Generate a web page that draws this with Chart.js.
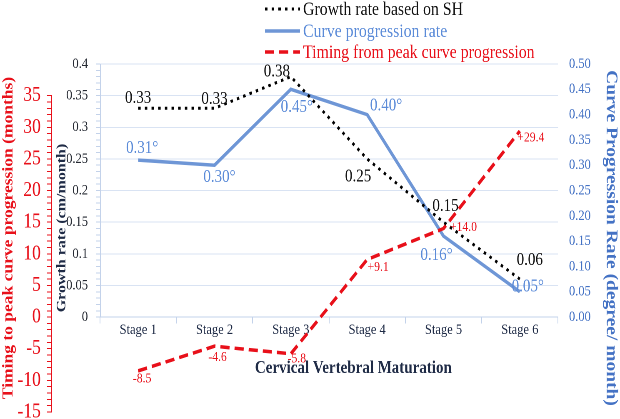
<!DOCTYPE html>
<html>
<head>
<meta charset="utf-8">
<script src="https://cdn.jsdelivr.net/npm/chart.js@4.4.1/dist/chart.umd.min.js"></script>
<style>
  html, body { margin: 0; padding: 0; background: #fff; }
  #wrap { width: 620px; height: 419px; overflow: hidden; position: relative; }
  #chart { position: absolute; left: 0; top: 0; transform: scaleX(0.8333); transform-origin: 0 0; }
</style>
</head>
<body>
<div id="wrap"><canvas id="chart" width="744" height="419"></canvas></div>
<script>
// data
const stages = ['Stage 1', 'Stage 2', 'Stage 3', 'Stage 4', 'Stage 5', 'Stage 6'];
const growthRate = [0.33, 0.33, 0.38, 0.25, 0.15, 0.06];
const curveRate = [0.31, 0.30, 0.45, 0.40, 0.16, 0.05];
const timingPeak = [-8.5, -4.6, -5.8, 9.1, 14.0, 29.4];

const growthTicks = [0, 0.05, 0.1, 0.15, 0.2, 0.25, 0.3, 0.35, 0.4];
const curveTicks = [0, 0.05, 0.1, 0.15, 0.2, 0.25, 0.3, 0.35, 0.4, 0.45, 0.5];
const timingTicks = [-15, -10, -5, 0, 5, 10, 15, 20, 25, 30, 35];

// where each value label sits relative to its point (figure px)
const growthLabelOffsets = [[0, -10], [0, -9], [-14, -5], [-9, 18], [2, -16], [10, -19]];
const curveLabelOffsets = [[4, -12], [5, 12], [6, 18], [19, -9], [-7, 19], [8, -5]];
const timingLabelOffsets = [[4, 8], [3, 11], [6, 5], [11, 8], [20, -1], [11, 7]];

// canvas is drawn wider and squeezed back by css, like the figure's text
const SX = 744 / 620;
const FONT = "'Liberation Serif', 'Times New Roman', serif";
const GRID = '#d9e3f3';
const AXIS = '#c3d2ea';
const RED = '#e8101a';
const BLUE_LINE = '#6e96d6';
const BLUE_TEXT = '#5b8bd8';
const BLUE_AXIS = '#4472c4';
const NAVY = '#1f2b46';

Chart.defaults.font.family = FONT;

function withMinor(major, parts) {
  const out = [];
  for (let i = 0; i < major.length - 1; i++) {
    const step = (major[i + 1] - major[i]) / parts;
    for (let j = 0; j < parts; j++) out.push(+(major[i] + j * step).toFixed(4));
  }
  out.push(major[major.length - 1]);
  return out;
}
const isMajor = (v, major) => major.some(m => Math.abs(m - v) < 1e-9);
const noPad = s => { s.paddingTop = 0; s.paddingBottom = 0; s.paddingLeft = 0; s.paddingRight = 0; };

const labelSets = [
  { fmt: v => v.toFixed(2), color: '#111111', size: 18, off: growthLabelOffsets },
  { fmt: v => v.toFixed(2) + '°', color: BLUE_TEXT, size: 18, off: curveLabelOffsets },
  { fmt: v => (v > 0 ? '+' : '') + v.toFixed(1), color: RED, size: 14, off: timingLabelOffsets }
];
const legendColors = ['#111111', BLUE_TEXT, RED];
const legendRows = [9, 31, 52];

const pointLabels = {
  id: 'pointLabels',
  afterDatasetsDraw(chart) {
    const ctx = chart.ctx;
    chart.data.datasets.forEach((ds, i) => {
      const set = labelSets[i];
      const meta = chart.getDatasetMeta(i);
      ctx.save();
      ctx.font = set.size + 'px ' + FONT;
      ctx.fillStyle = set.color;
      ctx.textAlign = 'center';
      ctx.textBaseline = 'middle';
      meta.data.forEach((pt, j) => {
        const [dx, dy] = set.off[j];
        ctx.fillText(set.fmt(ds.data[j]), pt.x + dx * SX, pt.y + dy);
      });
      ctx.restore();
    });
  }
};

const axisLines = {
  id: 'axisLines',
  beforeDatasetsDraw(chart) {
    const ctx = chart.ctx;
    const g = chart.scales.y;
    const r = chart.scales.yRed;
    ctx.save();
    ctx.lineWidth = 1;
    ctx.strokeStyle = AXIS;
    ctx.beginPath();
    ctx.moveTo(g.right + 0.5, g.getPixelForValue(0.4));
    ctx.lineTo(g.right + 0.5, g.getPixelForValue(0));
    ctx.stroke();
    ctx.strokeStyle = RED;
    ctx.beginPath();
    ctx.moveTo(r.right - 0.5, r.getPixelForValue(35));
    ctx.lineTo(r.right - 0.5, r.getPixelForValue(-15));
    ctx.stroke();
    ctx.restore();
  }
};

const topLegend = {
  id: 'topLegend',
  afterDraw(chart) {
    const ctx = chart.ctx;
    chart.data.datasets.forEach((ds, i) => {
      const y = legendRows[i];
      ctx.save();
      ctx.strokeStyle = ds.borderColor;
      ctx.lineWidth = ds.borderWidth;
      ctx.setLineDash(ds.borderDash || []);
      ctx.beginPath();
      ctx.moveTo(265 * SX, y);
      ctx.lineTo(300 * SX, y);
      ctx.stroke();
      ctx.setLineDash([]);
      ctx.font = '19px ' + FONT;
      ctx.fillStyle = legendColors[i];
      ctx.textAlign = 'left';
      ctx.textBaseline = 'middle';
      ctx.fillText(ds.label, 303 * SX, y + 1);
      ctx.restore();
    });
  }
};

new Chart(document.getElementById('chart'), {
  type: 'line',
  data: {
    labels: stages,
    datasets: [
      {
        label: 'Growth rate based on SH',
        data: growthRate,
        yAxisID: 'y',
        borderColor: '#000000',
        borderWidth: 3,
        borderDash: [3, 5],
        order: 1
      },
      {
        label: 'Curve progression rate',
        data: curveRate,
        yAxisID: 'yBlue',
        borderColor: BLUE_LINE,
        borderWidth: 3.5,
        order: 2
      },
      {
        label: 'Timing from peak curve progression',
        data: timingPeak,
        yAxisID: 'yRed',
        borderColor: RED,
        borderWidth: 3.5,
        borderDash: [11, 6],
        order: 0
      }
    ]
  },
  options: {
    responsive: false,
    animation: false,
    devicePixelRatio: 2,
    events: [],
    elements: { point: { radius: 0 }, line: { tension: 0, fill: false } },
    layout: { padding: { top: 64, left: 0, right: 0, bottom: 7 } },
    plugins: { legend: { display: false }, tooltip: { enabled: false } },
    scales: {
      x: {
        type: 'category',
        position: { y: 0 },
        offset: true,
        grid: { offset: true, drawOnChartArea: false, tickLength: 6, color: AXIS },
        border: { color: AXIS },
        ticks: { color: NAVY, font: { size: 15 }, padding: -2, maxRotation: 0, autoSkip: false },
        title: {
          display: true,
          text: '             Cervical Vertebral Maturation',
          color: NAVY,
          font: { size: 18, weight: 'bold' },
          padding: { top: 0, bottom: -55 }
        },
        afterFit: s => { s.height = 7; noPad(s); }
      },
      y: {
        type: 'linear',
        position: 'left',
        weight: 0,
        min: -0.15,
        max: 0.4,
        afterBuildTicks: s => { s.ticks = withMinor(growthTicks, 5).map(v => ({ value: v })); },
        ticks: {
          autoSkip: false,
          callback: v => isMajor(v, growthTicks) ? String(+v.toFixed(2)) : '',
          color: '#262a33',
          font: { size: 15 },
          padding: 9.4
        },
        grid: {
          color: c => isMajor(c.tick.value, growthTicks) ? GRID : 'rgba(0,0,0,0)',
          tickColor: AXIS,
          tickLength: 5
        },
        border: { display: false },
        title: {
          display: true,
          text: '     Growth rate (cm/month)',
          color: NAVY,
          font: { size: 16, weight: 'bold' },
          padding: { top: 2.4, bottom: 0 }
        },
        afterFit: s => { s.width = 57.6; noPad(s); }
      },
      yRed: {
        type: 'linear',
        position: 'left',
        weight: 1,
        min: -15,
        max: 40,
        afterBuildTicks: s => { s.ticks = withMinor(timingTicks, 5).map(v => ({ value: v })); },
        ticks: {
          autoSkip: false,
          callback: v => isMajor(v, timingTicks) ? String(Math.round(v)) : '',
          color: RED,
          font: { size: 21 },
          padding: 7.4
        },
        grid: { drawOnChartArea: false, color: RED, tickLength: 6 },
        border: { display: false },
        title: {
          display: true,
          text: 'Timing to peak curve progression (months)',
          color: RED,
          font: { size: 17.5, weight: 'bold' },
          padding: { top: 0, bottom: 0 }
        },
        afterFit: s => { s.width = 62.4; noPad(s); }
      },
      yBlue: {
        type: 'linear',
        position: 'right',
        min: -0.1875,
        max: 0.5,
        afterBuildTicks: s => { s.ticks = curveTicks.map(v => ({ value: v })); },
        ticks: {
          autoSkip: false,
          callback: v => v.toFixed(2),
          color: BLUE_AXIS,
          font: { size: 15 },
          padding: 13.2
        },
        grid: { drawOnChartArea: false, drawTicks: false },
        border: { display: false },
        title: {
          display: true,
          text: 'Curve Progression Rate (degree/ month)',
          color: BLUE_AXIS,
          font: { size: 19.5, weight: 'bold' },
          padding: { top: -0.5, bottom: 0 }
        },
        afterFit: s => { s.width = 74.4; noPad(s); }
      }
    }
  },
  plugins: [axisLines, pointLabels, topLegend]
});
</script>
</body>
</html>
